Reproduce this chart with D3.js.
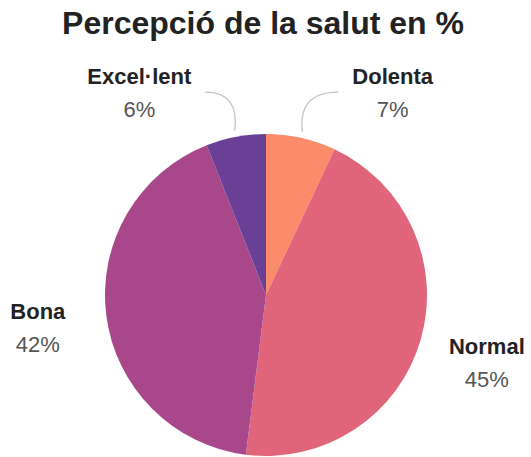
<!DOCTYPE html>
<html lang="ca">
<head>
    <meta charset="UTF-8">
    <title>Percepció de la salut en %</title>
    <script src="https://d3js.org/d3.v7.min.js"></script>
    <style>
        body {
            margin: 0;
            padding: 0;
            background: #fff;
            font-family: "Liberation Sans", Arial, sans-serif;
        }
        .title {
            font-size: 32px;
            font-weight: bold;
            fill: #222;
        }
        .name {
            font-size: 22px;
            font-weight: bold;
            fill: #222;
        }
        .pct {
            font-size: 22px;
            fill: #555;
        }
        .leader {
            fill: none;
            stroke: #c4c4c4;
            stroke-width: 1.3;
        }
    </style>
</head>
<body>
    <svg id="chart" width="531" height="457"></svg>

    <script>
        // Slices, clockwise from 12 o'clock
        const categories = ['Dolenta', 'Normal', 'Bona', 'Excel·lent'];
        const values = [7, 45, 42, 6];
        const colors = ['#fa8b6b', '#e0657a', '#a9478b', '#6a3f96'];

        const width = 531, height = 457;
        const cx = 266, cy = 295, radius = 161;

        const svg = d3.select('#chart');

        svg.append('text')
            .attr('class', 'title')
            .attr('x', 263)
            .attr('y', 34)
            .attr('text-anchor', 'middle')
            .text('Percepció de la salut en %');

        const data = categories.map((c, i) => ({ name: c, value: values[i], color: colors[i] }));

        const pie = d3.pie()
            .value(d => d.value)
            .sort(null);

        const arc = d3.arc()
            .innerRadius(0)
            .outerRadius(radius);

        const arcs = pie(data);

        const g = svg.append('g')
            .attr('transform', `translate(${cx},${cy})`);

        g.selectAll('path.slice')
            .data(arcs)
            .enter()
            .append('path')
            .attr('class', 'slice')
            .attr('d', arc)
            .attr('fill', d => d.data.color);

        // point at angle a (radians, clockwise from top) and radius r
        const polar = (a, r) => [r * Math.sin(a), -r * Math.cos(a)];

        arcs.forEach(d => {
            const mid = (d.startAngle + d.endAngle) / 2;
            const small = d.data.value < 10;
            // small slices get their labels pushed up and out with a leader line
            const tilt = 31 * Math.PI / 180;
            const labelAngle = small ? (mid < Math.PI ? tilt : -tilt) : mid;
            let [lx, ly] = polar(labelAngle, small ? 246 : 230);
            if (!small) ly -= 5;

            const name = g.append('text')
                .attr('class', 'name')
                .attr('x', lx)
                .attr('y', ly)
                .attr('text-anchor', 'middle')
                .text(d.data.name);

            g.append('text')
                .attr('class', 'pct')
                .attr('x', lx)
                .attr('y', ly + 33)
                .attr('text-anchor', 'middle')
                .text(d.data.value + '%');

            if (small) {
                const half = name.node().getComputedTextLength() / 2;
                const side = Math.sin(mid) > 0 ? 1 : -1;
                const [sx, sy] = polar(mid, radius + 6);
                const ex = lx - side * (half + 14);
                const ey = ly + 8;
                const path = d3.path();
                path.moveTo(ex, ey);
                path.quadraticCurveTo(sx - side * 5, ey, sx, sy);
                g.append('path')
                    .attr('class', 'leader')
                    .attr('d', path.toString());
            }
        });
    </script>
</body>
</html>
